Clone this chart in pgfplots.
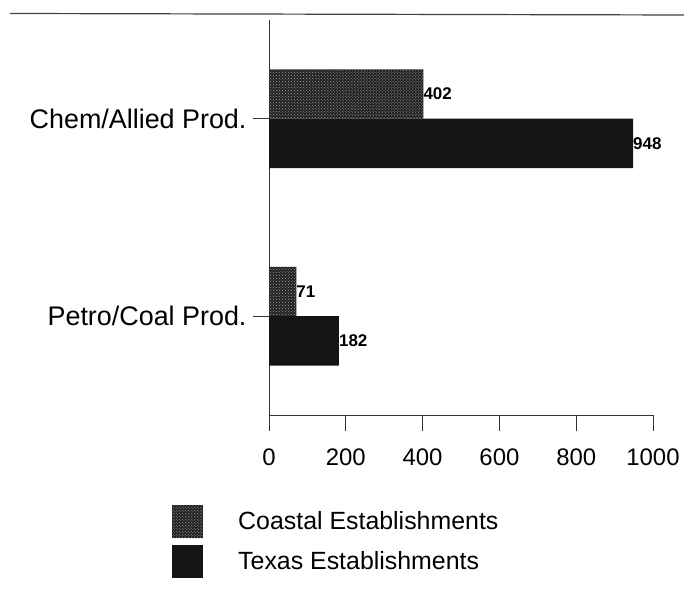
\documentclass[border=0pt]{standalone}
\usepackage{pgfplots}
\pgfplotsset{compat=1.18}
\usepackage{fontspec}
\setmainfont{Liberation Sans}
\usetikzlibrary{patterns}

\begin{document}
\begin{tikzpicture}
\path[use as bounding box] (0,0) rectangle (684bp,594bp);
\draw[black!75, line width=1.2bp] (10bp,580.5bp) -- (684bp,579bp);
\begin{axis}[
  at={(269bp,179bp)}, anchor=south west,
  scale only axis, width=384bp, height=395bp,
  xbar, bar width=0.25,
  xmin=0, xmax=1000, ymin=-0.5, ymax=1.5,
  axis x line*=bottom, axis y line*=left,
  axis line style={black!80, line width=0.9bp, -},
  xtick={0,200,400,600,800,1000},
  ytick={0,1}, yticklabels={Petro/Coal Prod., Chem/Allied Prod.},
  tick align=outside, major tick length=16bp,
  tick style={black!80, line width=0.9bp},
  /pgf/number format/assume math mode=true,
  /pgf/number format/1000 sep={},
  xticklabel style={font=\fontsize{24}{28}\selectfont, yshift=-14bp},
  yticklabel style={font=\fontsize{27}{30}\selectfont, xshift=-3bp},
  nodes near coords,
  nodes near coords style={font=\bfseries\fontsize{17}{20}\selectfont, anchor=west, inner sep=0pt, text=black},
  legend cell align=left,
  legend style={at={(-0.2526,-0.2278)}, anchor=north west, draw=none, fill=none, inner sep=0pt,
    font=\fontsize{25}{28}\selectfont, row sep=7bp, nodes={inner sep=0pt},
    /tikz/every odd column/.append style={column sep=35bp}},
  legend image code/.code={\fill[#1] (0bp,-16.5bp) rectangle (31bp,16.5bp);},
]
\addplot[fill=black!87, draw=none, bar shift=0.125, postaction={pattern=crosshatch dots, pattern color=gray!70}] coordinates {(71,0) (402,1)};
\addplot[fill=black!92, draw=none, bar shift=-0.125] coordinates {(182,0) (948,1)};
\legend{Coastal Establishments, Texas Establishments}
\end{axis}
\end{tikzpicture}
\end{document}
